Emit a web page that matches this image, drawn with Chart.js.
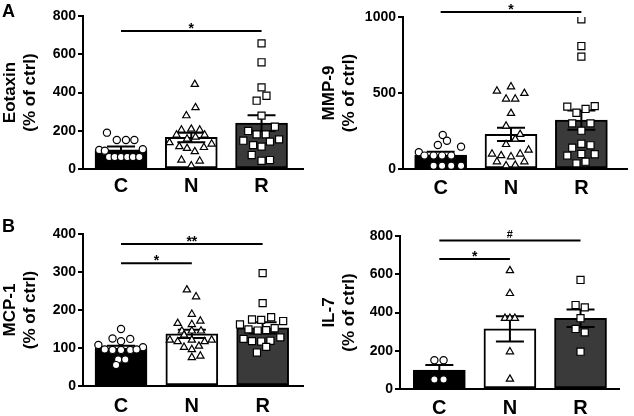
<!DOCTYPE html>
<html>
<head>
<meta charset="utf-8">
<script src="https://cdn.jsdelivr.net/npm/chart.js@4.4.1/dist/chart.umd.min.js"></script>
<style>
  body { margin: 0; background: #fff; }
  #fig { position: relative; width: 634px; height: 416px; }
  canvas { position: absolute; }
</style>
</head>
<body>
<div id="fig">
  <canvas id="cEotaxin" width="317" height="208" style="left:0;top:0"></canvas>
  <canvas id="cMmp9" width="317" height="208" style="left:317px;top:0"></canvas>
  <canvas id="cMcp1" width="317" height="208" style="left:0;top:208px"></canvas>
  <canvas id="cIl7" width="317" height="208" style="left:317px;top:208px"></canvas>
</div>
<script>
const categories = ['C', 'N', 'R'];
const yUnit = '(% of ctrl)';

// Eotaxin : moyennes, SEM, points [décalage horizontal, valeur]
const eotaxinMeans = [100, 165, 240];
const eotaxinSem = [17, 25, 41];
const eotaxinC = [[-0.20, 190], [-0.06, 152], [0.07, 152], [0.19, 152], [-0.31, 100], [-0.23, 96], [0.31, 103],
  [-0.17, 63], [-0.09, 63], [0, 63], [0.09, 63], [0.17, 63], [0.26, 63]];
const eotaxinN = [[0.05, 443], [0.06, 321], [-0.07, 279], [-0.14, 204], [0, 209], [0.12, 204], [-0.21, 178], [0.19, 178],
  [-0.06, 157], [0.06, 167], [-0.31, 138], [0.29, 131], [-0.17, 117], [-0.06, 108], [0.18, 113], [0.05, 91],
  [-0.14, 47], [0.12, 42], [0, 17]];
const eotaxinR = [[0, 657], [0, 558], [0, 427], [0.07, 383], [-0.07, 357], [0, 279], [0.19, 221], [-0.19, 199],
  [-0.07, 181], [0.06, 181], [-0.26, 148], [0.12, 143], [0.25, 155], [-0.12, 125], [0, 117], [-0.14, 73],
  [0, 43], [0.12, 47]];
const eotaxinSig = [[0, 2, 722, '*']];

// MMP-9
const mmp9Means = [92, 228, 322];
const mmp9Sem = [22, 44, 63];
const mmp9C = [[0.03, 224], [0.09, 186], [-0.04, 158], [0.29, 147], [-0.31, 110], [-0.23, 88], [-0.1, 88], [0.02, 88],
  [0.15, 88], [-0.1, 22], [0.02, 22], [0.15, 22], [0.29, 22]];
const mmp9N = [[0, 541], [-0.2, 513], [0.19, 498], [-0.07, 461], [0.06, 461], [0, 366], [-0.07, 283], [0.13, 228],
  [0.06, 197], [-0.07, 162], [0.25, 125], [-0.27, 99], [-0.14, 88], [0, 81], [0.13, 99], [-0.2, 48], [0.19, 48],
  [-0.07, 22], [0.06, 26]];
const mmp9R = [[0, 985], [0, 809], [0, 739], [-0.2, 410], [-0.07, 370], [0.06, 395], [0.19, 414], [-0.13, 300],
  [0.13, 300], [0, 252], [-0.13, 140], [0.13, 156], [0, 166], [-0.2, 88], [0, 99], [0.19, 97], [-0.07, 37], [0.06, 48]];
const mmp9Sig = [[0, 2, 1033, '*']];

// MCP-1
const mcp1Means = [99, 137, 153];
const mcp1Sem = [7, 11, 15];
const mcp1C = [[0, 150], [-0.12, 125], [0.13, 124], [0, 118], [-0.32, 108], [0.31, 102], [-0.23, 96], [-0.12, 95],
  [0, 95], [0.13, 95], [0.22, 96], [-0.04, 70], [0.06, 70], [-0.07, 55]];
const mcp1N = [[-0.07, 253], [0.06, 235], [0, 189], [-0.2, 165], [0, 162], [0.12, 171], [-0.14, 145], [0, 145],
  [0.13, 145], [-0.11, 134], [-0.31, 121], [-0.2, 117], [0, 121], [0.18, 117], [0.28, 121], [-0.11, 102], [0, 96],
  [0.1, 105], [0, 75], [0.12, 79]];
const mcp1R = [[0, 297], [0, 218], [-0.32, 162], [-0.15, 175], [-0.02, 174], [0.12, 181], [0.29, 171], [-0.2, 149],
  [-0.07, 146], [0.05, 147], [0.17, 152], [-0.27, 124], [-0.15, 118], [-0.02, 117], [0.11, 119], [0.25, 128],
  [0.05, 103], [-0.08, 88]];
const mcp1Sig = [[0, 1, 323, '*'], [0, 2, 374, '**']];

// IL-7
const il7Means = [99, 314, 370];
const il7Sem = [26, 66, 46];
const il7C = [[-0.07, 150], [0.06, 150], [-0.07, 50], [0.06, 50]];
const il7N = [[0, 619], [0, 500], [-0.07, 370], [0, 370], [0.07, 370], [0, 195], [0, 52]];
const il7R = [[0, 570], [-0.07, 439], [0.06, 427], [0, 370], [-0.07, 314], [0.06, 296], [0, 195]];
const il7Sig = [[0, 1, 680, '*'], [0, 2, 777, '#']];

Chart.defaults.font.family = "'Liberation Sans', Arial, sans-serif";
Chart.defaults.color = '#000';

const barColors = ['#000000', '#ffffff', '#3a3a3a'];
const pointStyles = ['circle', 'triangle', 'rect'];
const pointRadius = [3.6, 4.2, 5];

function makePanel(id, p) {
  const canvas = document.getElementById(id);
  const W = canvas.width, H = canvas.height;

  // barres d'erreur, lignes de significativité, lettre du panneau
  const extras = {
    id: 'extras' + id,
    afterDatasetDraw(chart, args) {
      if (args.index !== 0) return;
      const ctx = chart.ctx, xs = chart.scales.x, ys = chart.scales.y;
      ctx.save();
      ctx.strokeStyle = '#000';
      ctx.lineWidth = 2;
      p.means.forEach((m, i) => {
        const px = xs.getPixelForValue(i);
        const top = ys.getPixelForValue(m + p.sem[i]);
        const bot = ys.getPixelForValue(m - p.sem[i]);
        ctx.beginPath();
        ctx.moveTo(px, top); ctx.lineTo(px, bot);
        ctx.moveTo(px - 14, top); ctx.lineTo(px + 14, top);
        ctx.moveTo(px - 14, bot); ctx.lineTo(px + 14, bot);
        ctx.stroke();
      });
      ctx.restore();
    },
    afterDraw(chart) {
      const ctx = chart.ctx, xs = chart.scales.x, ys = chart.scales.y;
      ctx.save();
      ctx.strokeStyle = '#000';
      ctx.fillStyle = '#000';
      ctx.lineWidth = 2;
      ctx.textAlign = 'center';
      ctx.textBaseline = 'alphabetic';
      p.sig.forEach(([a, b, v, label]) => {
        const y = ys.getPixelForValue(v);
        const x1 = xs.getPixelForValue(a), x2 = xs.getPixelForValue(b);
        ctx.beginPath();
        ctx.moveTo(x1, y); ctx.lineTo(x2, y);
        ctx.stroke();
        if (label === '#') {
          ctx.font = "bold 11px 'Liberation Sans', Arial, sans-serif";
          ctx.fillText(label, (x1 + x2) / 2, y - 2);
        } else {
          ctx.font = "bold 14px 'Liberation Sans', Arial, sans-serif";
          ctx.fillText(label, (x1 + x2) / 2, y + 2);
        }
      });
      if (p.letter) {
        ctx.textAlign = 'left';
        ctx.font = "bold 18px 'Liberation Sans', Arial, sans-serif";
        ctx.fillText(p.letter, 2, p.letterY);
      }
      ctx.restore();
    }
  };

  const groups = [p.c, p.n, p.r];
  const scatterSets = groups.map((pts, i) => ({
    type: 'scatter',
    data: pts.map(([dx, v]) => ({ x: i + dx, y: v })),
    pointStyle: pointStyles[i],
    pointRadius: pointRadius[i],
    pointBackgroundColor: '#fff',
    pointBorderColor: '#000',
    pointBorderWidth: 1.2,
    order: 1
  }));

  return new Chart(canvas, {
    type: 'bar',
    data: {
      datasets: [{
        type: 'bar',
        data: p.means.map((v, i) => ({ x: i, y: v })),
        backgroundColor: barColors,
        borderColor: '#000',
        borderWidth: 2,
        borderSkipped: false,
        barThickness: 52,
        order: 2
      }, ...scatterSets]
    },
    options: {
      responsive: false,
      animation: false,
      devicePixelRatio: 1,
      layout: { padding: { left: 0, top: p.area.top, right: W - p.area.right, bottom: 0 } },
      plugins: { legend: { display: false }, tooltip: { enabled: false } },
      scales: {
        x: {
          type: 'linear',
          offset: false,
          bounds: 'data',
          min: p.xMin,
          max: p.xMax,
          afterBuildTicks: s => { s.ticks = categories.map((_, i) => ({ value: i })); },
          afterFit: s => { s.height = H - p.area.bottom; },
          ticks: {
            callback: v => categories[v],
            font: { size: 20, weight: 'bold' },
            color: '#000',
            padding: p.labelPad,
            autoSkip: false,
            maxRotation: 0
          },
          grid: { display: false, drawTicks: false, offset: false },
          border: { color: '#000', width: 2 }
        },
        y: {
          min: 0,
          max: p.yMax,
          afterFit: s => { s.width = p.area.left; },
          ticks: { stepSize: p.yStep, callback: v => String(v), font: { size: 14, weight: 'bold' }, color: '#000', padding: 2 },
          grid: { drawOnChartArea: false, tickLength: 5, color: '#000', lineWidth: 2 },
          border: { color: '#000', width: 2 },
          title: {
            display: true,
            text: [p.title, yUnit],
            font: { size: 17, weight: 'bold' },
            color: '#000',
            padding: { top: p.titlePad, bottom: 0 }
          }
        }
      }
    },
    plugins: [extras]
  });
}

makePanel('cEotaxin', {
  title: 'Eotaxin', means: eotaxinMeans, sem: eotaxinSem, c: eotaxinC, n: eotaxinN, r: eotaxinR, sig: eotaxinSig,
  yMax: 800, yStep: 200, area: { left: 83, top: 16, right: 303, bottom: 169 }, xMin: -0.541, xMax: 2.59,
  labelPad: 5, titlePad: 0, letter: 'A', letterY: 17
});
makePanel('cMmp9', {
  title: 'MMP-9', means: mmp9Means, sem: mmp9Sem, c: mmp9C, n: mmp9N, r: mmp9R, sig: mmp9Sig,
  yMax: 1000, yStep: 500, area: { left: 86, top: 17, right: 313, bottom: 169 }, xMin: -0.535, xMax: 2.66,
  labelPad: 7, titlePad: 2
});
makePanel('cMcp1', {
  title: 'MCP-1', means: mcp1Means, sem: mcp1Sem, c: mcp1C, n: mcp1N, r: mcp1R, sig: mcp1Sig,
  yMax: 400, yStep: 100, area: { left: 83, top: 26, right: 303, bottom: 178 }, xMin: -0.537, xMax: 2.57,
  labelPad: 8, titlePad: 0, letter: 'B', letterY: 23.5
});
makePanel('cIl7', {
  title: 'IL-7', means: il7Means, sem: il7Sem, c: il7C, n: il7N, r: il7R, sig: il7Sig,
  yMax: 800, yStep: 200, area: { left: 83, top: 28, right: 302, bottom: 181 }, xMin: -0.557, xMax: 2.545,
  labelPad: 7, titlePad: 2
});
</script>
</body>
</html>
